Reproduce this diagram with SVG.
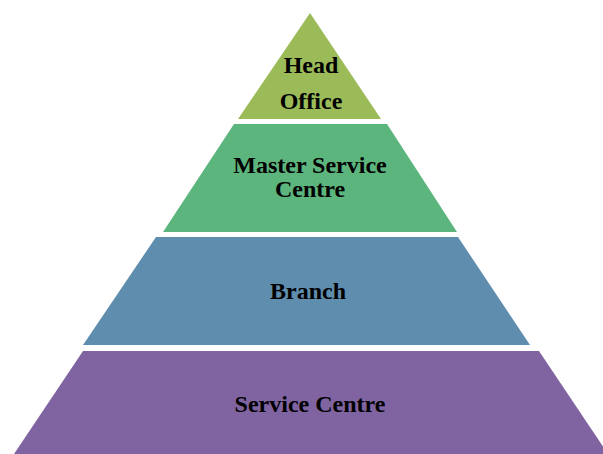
<svg xmlns="http://www.w3.org/2000/svg" width="603" height="454" viewBox="0 0 603 454">
<style>
.lbl{font-family:"Liberation Serif","Times New Roman",serif;font-weight:bold;font-size:24px;fill:#000;text-anchor:middle}
</style>
<rect width="603" height="454" fill="#fff"/>
<g id="head-office">
<polygon points="310,13 381,119 238,119" fill="#9bbb59"/>
<text class="lbl" x="311" y="73">Head</text>
<text class="lbl" x="311" y="109">Office</text>
</g>
<g id="master-service-centre">
<polygon points="234,124 387,124 457,232 163,232" fill="#5db57e"/>
<text class="lbl" x="310" y="173">Master Service</text>
<text class="lbl" x="310" y="197">Centre</text>
</g>
<g id="branch">
<polygon points="156,237 458,237 530,345 83,345" fill="#5f8dad"/>
<text class="lbl" x="308" y="299">Branch</text>
</g>
<g id="service-centre">
<polygon points="83,351 539,351 608,454 14,454" fill="#8064a2"/>
<text class="lbl" x="310" y="412">Service Centre</text>
</g>
<g id="connectors"/>
</svg>
